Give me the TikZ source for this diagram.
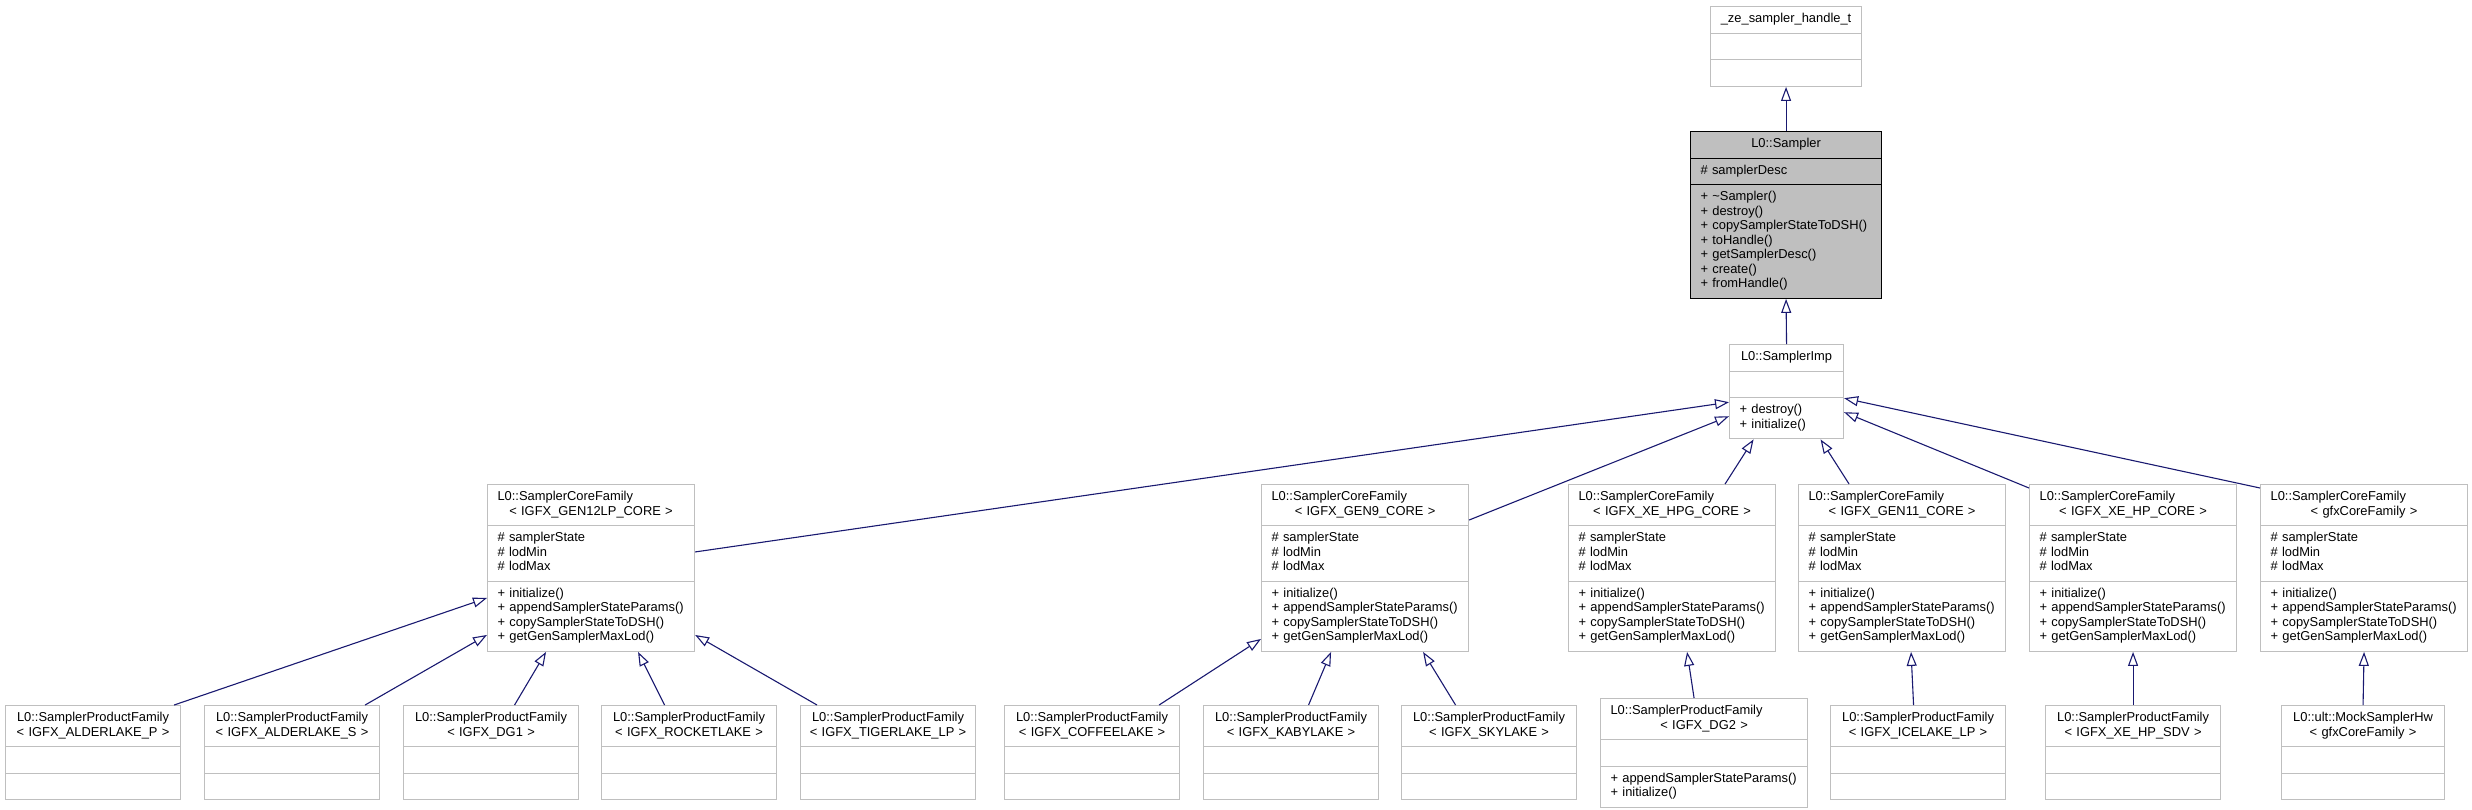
\documentclass[tikz,border=0pt]{standalone}
\usepackage{fontspec}
\setmainfont{Liberation Sans}
\usetikzlibrary{shapes.multipart, arrows.meta}
\definecolor{edgeblue}{HTML}{191970}
\definecolor{boxgray}{HTML}{BFBFBF}
\newcommand{\classfont}{\fontsize{12.9}{14.5}\selectfont\hyphenpenalty=10000}

\begin{document}
\begin{tikzpicture}[x=1pt, y=-1pt,
    classbox/.style={rectangle split, rectangle split parts=3, draw=boxgray, fill=white, line width=1.1pt, text width=#1, align=left, inner xsep=10pt, inner ysep=5.5pt, font=\classfont, anchor=north west},
    current/.style={draw=black, fill=boxgray},
    inherit/.style={draw=edgeblue, line width=1.1pt, -{Triangle[open, length=14pt, width=10pt]}}
]
    \useasboundingbox (0,0) rectangle (2472,809);

    % Base classes
    \node[classbox=131pt] (handle) at (1710,6) {\makebox[\linewidth]{\strut\_ze\_sampler\_handle\_t}\nodepart{two}\strut\nodepart{three}\strut};
    \node[classbox=171pt, current] (sampler) at (1690,131) {\makebox[\linewidth]{\strut L0::Sampler}\nodepart{two}\strut\# samplerDesc\nodepart{three}\strut+ \textasciitilde Sampler()\\\strut+ destroy()\\\strut+ copySamplerStateToDSH()\\\strut+ toHandle()\\\strut+ getSamplerDesc()\\\strut+ create()\\\strut+ fromHandle()};
    \node[classbox=94pt] (imp) at (1729,344) {\makebox[\linewidth]{\strut L0::SamplerImp}\nodepart{two}\strut\nodepart{three}\strut+ destroy()\\\strut+ initialize()};

    % Core families
    \node[classbox=187pt] (gen12) at (487,484) {\strut L0::SamplerCoreFamily\\\makebox[\linewidth]{\strut< IGFX\_GEN12LP\_CORE >}\nodepart{two}\strut\# samplerState\\\strut\# lodMin\\\strut\# lodMax\nodepart{three}\strut+ initialize()\\\strut+ appendSamplerStateParams()\\\strut+ copySamplerStateToDSH()\\\strut+ getGenSamplerMaxLod()};
    \node[classbox=187pt] (gen9) at (1261,484) {\strut L0::SamplerCoreFamily\\\makebox[\linewidth]{\strut< IGFX\_GEN9\_CORE >}\nodepart{two}\strut\# samplerState\\\strut\# lodMin\\\strut\# lodMax\nodepart{three}\strut+ initialize()\\\strut+ appendSamplerStateParams()\\\strut+ copySamplerStateToDSH()\\\strut+ getGenSamplerMaxLod()};
    \node[classbox=187pt] (hpg) at (1568,484) {\strut L0::SamplerCoreFamily\\\makebox[\linewidth]{\strut< IGFX\_XE\_HPG\_CORE >}\nodepart{two}\strut\# samplerState\\\strut\# lodMin\\\strut\# lodMax\nodepart{three}\strut+ initialize()\\\strut+ appendSamplerStateParams()\\\strut+ copySamplerStateToDSH()\\\strut+ getGenSamplerMaxLod()};
    \node[classbox=187pt] (gen11) at (1798,484) {\strut L0::SamplerCoreFamily\\\makebox[\linewidth]{\strut< IGFX\_GEN11\_CORE >}\nodepart{two}\strut\# samplerState\\\strut\# lodMin\\\strut\# lodMax\nodepart{three}\strut+ initialize()\\\strut+ appendSamplerStateParams()\\\strut+ copySamplerStateToDSH()\\\strut+ getGenSamplerMaxLod()};
    \node[classbox=187pt] (xehp) at (2029,484) {\strut L0::SamplerCoreFamily\\\makebox[\linewidth]{\strut< IGFX\_XE\_HP\_CORE >}\nodepart{two}\strut\# samplerState\\\strut\# lodMin\\\strut\# lodMax\nodepart{three}\strut+ initialize()\\\strut+ appendSamplerStateParams()\\\strut+ copySamplerStateToDSH()\\\strut+ getGenSamplerMaxLod()};
    \node[classbox=187pt] (gfx) at (2260,484) {\strut L0::SamplerCoreFamily\\\makebox[\linewidth]{\strut< gfxCoreFamily >}\nodepart{two}\strut\# samplerState\\\strut\# lodMin\\\strut\# lodMax\nodepart{three}\strut+ initialize()\\\strut+ appendSamplerStateParams()\\\strut+ copySamplerStateToDSH()\\\strut+ getGenSamplerMaxLod()};

    % Product families
    \node[classbox=155pt] (aldp) at (5,705) {\makebox[\linewidth]{\strut L0::SamplerProductFamily}\\\makebox[\linewidth]{\strut< IGFX\_ALDERLAKE\_P >}\nodepart{two}\strut\nodepart{three}\strut};
    \node[classbox=155pt] (alds) at (204,705) {\makebox[\linewidth]{\strut L0::SamplerProductFamily}\\\makebox[\linewidth]{\strut< IGFX\_ALDERLAKE\_S >}\nodepart{two}\strut\nodepart{three}\strut};
    \node[classbox=155pt] (dg1) at (403,705) {\makebox[\linewidth]{\strut L0::SamplerProductFamily}\\\makebox[\linewidth]{\strut< IGFX\_DG1 >}\nodepart{two}\strut\nodepart{three}\strut};
    \node[classbox=155pt] (rkl) at (601,705) {\makebox[\linewidth]{\strut L0::SamplerProductFamily}\\\makebox[\linewidth]{\strut< IGFX\_ROCKETLAKE >}\nodepart{two}\strut\nodepart{three}\strut};
    \node[classbox=155pt] (tgl) at (800,705) {\makebox[\linewidth]{\strut L0::SamplerProductFamily}\\\makebox[\linewidth]{\strut< IGFX\_TIGERLAKE\_LP >}\nodepart{two}\strut\nodepart{three}\strut};
    \node[classbox=155pt] (cfl) at (1004,705) {\makebox[\linewidth]{\strut L0::SamplerProductFamily}\\\makebox[\linewidth]{\strut< IGFX\_COFFEELAKE >}\nodepart{two}\strut\nodepart{three}\strut};
    \node[classbox=155pt] (kbl) at (1203,705) {\makebox[\linewidth]{\strut L0::SamplerProductFamily}\\\makebox[\linewidth]{\strut< IGFX\_KABYLAKE >}\nodepart{two}\strut\nodepart{three}\strut};
    \node[classbox=155pt] (skl) at (1401,705) {\makebox[\linewidth]{\strut L0::SamplerProductFamily}\\\makebox[\linewidth]{\strut< IGFX\_SKYLAKE >}\nodepart{two}\strut\nodepart{three}\strut};
    \node[classbox=187pt] (dg2) at (1600,698) {\strut L0::SamplerProductFamily\\\makebox[\linewidth]{\strut< IGFX\_DG2 >}\nodepart{two}\strut\nodepart{three}\strut+ appendSamplerStateParams()\\\strut+ initialize()};
    \node[classbox=155pt] (icl) at (1830,705) {\makebox[\linewidth]{\strut L0::SamplerProductFamily}\\\makebox[\linewidth]{\strut< IGFX\_ICELAKE\_LP >}\nodepart{two}\strut\nodepart{three}\strut};
    \node[classbox=155pt] (sdv) at (2045,705) {\makebox[\linewidth]{\strut L0::SamplerProductFamily}\\\makebox[\linewidth]{\strut< IGFX\_XE\_HP\_SDV >}\nodepart{two}\strut\nodepart{three}\strut};
    \node[classbox=143pt] (mock) at (2281,705) {\makebox[\linewidth]{\strut L0::ult::MockSamplerHw}\\\makebox[\linewidth]{\strut< gfxCoreFamily >}\nodepart{two}\strut\nodepart{three}\strut};

    % Inheritance
    \draw[inherit] (sampler.north) -- (handle.south);
    \draw[inherit] (imp.north) -- (sampler.south);
    \draw[inherit] ([yshift=16pt]gen12.east) -- ([yshift=-10.5pt]imp.west);
    \draw[inherit] ([yshift=-36pt]gen9.north east) -- ([yshift=-24.5pt]imp.west);
    \draw[inherit] ([xshift=53pt]hpg.north) -- ([xshift=-33pt]imp.south);
    \draw[inherit] ([xshift=-53pt]gen11.north) -- ([xshift=34pt]imp.south);
    \draw[inherit] ([yshift=-4pt]xehp.north west) -- ([yshift=-20.5pt]imp.east);
    \draw[inherit] ([yshift=-4pt]gfx.north west) -- ([yshift=-6.5pt]imp.east);

    \draw[inherit] ([xshift=-7pt]aldp.north east) -- ([yshift=-30pt]gen12.west);
    \draw[inherit] ([xshift=-15pt]alds.north east) -- ([yshift=-67pt]gen12.west);
    \draw[inherit] ([xshift=23.5pt]dg1.north) -- ([xshift=-45pt]gen12.south);
    \draw[inherit] ([xshift=-24.5pt]rkl.north) -- ([xshift=47pt]gen12.south);
    \draw[inherit] ([xshift=17pt]tgl.north west) -- ([yshift=-67pt]gen12.east);
    \draw[inherit] ([xshift=-21pt]cfl.north east) -- ([yshift=-71pt]gen9.west);
    \draw[inherit] ([xshift=17.5pt]kbl.north) -- ([xshift=-34pt]gen9.south);
    \draw[inherit] ([xshift=-33.5pt]skl.north) -- ([xshift=58pt]gen9.south);
    \draw[inherit] ([xshift=-10pt]dg2.north) -- ([xshift=15pt]hpg.south);
    \draw[inherit] ([xshift=-4.5pt]icl.north) -- ([xshift=9pt]gen11.south);
    \draw[inherit] (sdv.north) -- (xehp.south);
    \draw[inherit] (mock.north) -- (gfx.south);
\end{tikzpicture}
\end{document}
